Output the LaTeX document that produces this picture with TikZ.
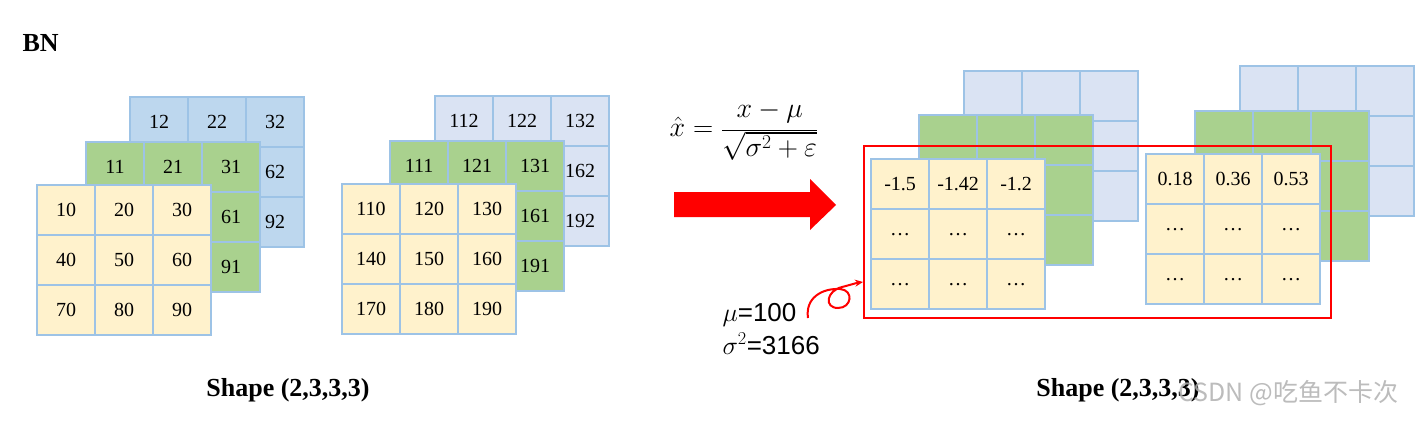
\RequirePackage{fix-cm}
\documentclass[tikz,border=0pt]{standalone}
\usepackage{fontspec}
\setmainfont{Liberation Serif}
\newfontfamily\notesans{Liberation Sans}
\newfontfamily\cjk{Noto Sans CJK SC}
\usepackage{xcolor}
\definecolor{cEdge}{HTML}{9DC3E6}
\definecolor{cYellow}{HTML}{FFF2CC}
\definecolor{cGreen}{HTML}{A9D18E}
\definecolor{cBlue}{HTML}{BDD7EE}
\definecolor{cBlueLt}{HTML}{DAE3F3}
\definecolor{cRed}{HTML}{FF0000}
\definecolor{cMark}{HTML}{B0B0B0}
\usepackage{tikz}
\usetikzlibrary{arrows.meta}
\tikzset{
  cell/.style={draw=cEdge,line width=2.2pt,minimum width=58pt,minimum height=50pt,
    inner sep=0pt,anchor=north west,font=\fontsize{20}{20}\selectfont},
  title-text/.style={font=\fontsize{26}{26}\selectfont\bfseries},
  note-text/.style={anchor=base west,font=\fontsize{26}{26}\selectfont\notesans},
  red-box/.style={draw=cRed,line width=2pt,anchor=north west,inner sep=0pt},
  arrow-note/.style={-{Stealth[length=8pt,width=7pt]},line width=2pt,draw=cRed},
  mark-text/.style={anchor=west,text=cMark,opacity=.85,font=\fontsize{25}{25}\selectfont\cjk},
}
% one 3x3 layer: name, left, top, fill, labels
\newcommand{\cellgrid}[5]{%
  \foreach \t [count=\i from 0] in {#5} {
    \pgfmathtruncatemacro{\row}{\i/3}
    \pgfmathtruncatemacro{\col}{mod(\i,3)}
    \node[cell,fill=#4] (#1-\row\col) at ({#2+\col*58},{#3+\row*50}) {\t};
  }%
}

\begin{document}
\begin{tikzpicture}[x=1pt,y=-1pt]
  \useasboundingbox (0,0) rectangle (1419,426);
  \node[title-text,anchor=west] (bn) at (19,43) {BN};

  % input, sample 1
  \cellgrid{ab}{129}{96}{cBlue}{12,22,32,{},{},62,{},{},92}
  \cellgrid{ag}{85}{141}{cGreen}{11,21,31,{},{},61,{},{},91}
  \cellgrid{ay}{36}{184}{cYellow}{10,20,30,40,50,60,70,80,90}
  % input, sample 2
  \cellgrid{bb}{434}{95}{cBlueLt}{112,122,132,{},{},162,{},{},192}
  \cellgrid{bg}{389}{140}{cGreen}{111,121,131,{},{},161,{},{},191}
  \cellgrid{by}{341}{183}{cYellow}{110,120,130,140,150,160,170,180,190}
  \node[title-text] (shapeL) at (288,390) {Shape (2,3,3,3)};

  % formula and arrow
  \node[font=\fontsize{28}{33}\selectfont] (formula) at (744,131)
    {$\displaystyle \hat{x}=\frac{x-\mu}{\sqrt{\sigma^{2}+\varepsilon}}$};
  \fill[cRed] (674,192) -- (810,192) -- (810,179) -- (836,205)
    -- (810,230) -- (810,217) -- (674,217) -- cycle;

  % output, sample 1
  \cellgrid{cb}{963}{70}{cBlueLt}{{},{},{},{},{},{},{},{},{}}
  \cellgrid{cg}{918}{114}{cGreen}{{},{},{},{},{},{},{},{},{}}
  \cellgrid{cy}{870}{158}{cYellow}{-1.5,-1.42,-1.2,…,…,…,…,…,…}
  % output, sample 2
  \cellgrid{db}{1239}{65}{cBlueLt}{{},{},{},{},{},{},{},{},{}}
  \cellgrid{dg}{1194}{110}{cGreen}{{},{},{},{},{},{},{},{},{}}
  \cellgrid{dy}{1145}{153}{cYellow}{0.18,0.36,0.53,…,…,…,…,…,…}
  \node[red-box,minimum width=467pt,minimum height=172pt] (frame) at (863,145) {};
  \node[title-text] (shapeR) at (1118,390) {Shape (2,3,3,3)};

  % statistics of the first row
  \node[note-text] (mu) at (719,321) {$\mu$=100};
  \node[note-text] (sigma) at (719,354) {$\sigma^{2}$=3166};
  \coordinate (curl) at (808,318);
  \coordinate (tip) at (863,282);
  \draw[arrow-note] (curl) .. controls (805,298) and (822,288) .. (840,289)
    .. controls (854,290) and (852,308) .. (838,308)
    .. controls (824,308) and (826,291) .. (842,287)
    .. controls (850,285) and (856,283) .. (tip);

  \node[mark-text] (mark) at (1175,393) {CSDN @吃鱼不卡次};
\end{tikzpicture}
\end{document}
